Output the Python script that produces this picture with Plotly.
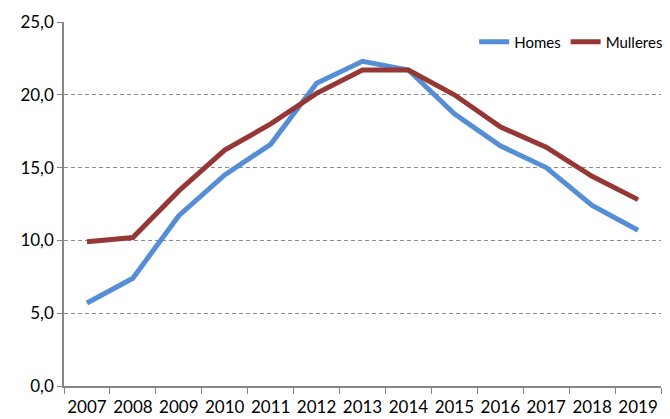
import plotly.graph_objects as go

years = ["2007", "2008", "2009", "2010", "2011", "2012", "2013",
         "2014", "2015", "2016", "2017", "2018", "2019"]
homes = [5.7, 7.4, 11.7, 14.5, 16.6, 20.8, 22.3, 21.7, 18.7, 16.5, 15.0, 12.4, 10.7]
mulleres = [9.9, 10.2, 13.4, 16.2, 18.0, 20.1, 21.7, 21.7, 20.0, 17.8, 16.4, 14.4, 12.8]
y_ticks = [0, 5, 10, 15, 20, 25]

fig = go.Figure()
fig.add_trace(go.Scatter(x=years, y=homes, name="Homes", mode="lines",
                         line=dict(color="#558ED5", width=5)))
fig.add_trace(go.Scatter(x=years, y=mulleres, name="Mulleres", mode="lines",
                         line=dict(color="#953735", width=5)))

fig.update_layout(
    width=670, height=419,
    margin=dict(l=64, r=2, t=22, b=33),
    paper_bgcolor="white", plot_bgcolor="white",
    separators=", ",
    font=dict(family="Lato, Open Sans, sans-serif", size=16, color="#000000"),
    showlegend=True,
    legend=dict(orientation="h", x=1.012, xanchor="right", y=0.945, yanchor="middle",
                font=dict(size=15), bgcolor="rgba(0,0,0,0)", itemwidth=30,
                tracegroupgap=0),
    xaxis=dict(type="category", tickson="boundaries", ticks="outside", ticklen=6,
               tickcolor="#868686", showline=True, linecolor="#868686", linewidth=1.5,
               showgrid=False, range=[-0.5, 12.5], tickfont=dict(size=17),
               tickangle=0, automargin=False, ticklabelstandoff=5),
    yaxis=dict(range=[0, 25], tickvals=y_ticks, tickformat=".1f", ticks="outside",
               ticklen=5, tickcolor="#868686", showline=True, linecolor="#868686",
               linewidth=1.5, showgrid=True, gridcolor="#8c8c8c", griddash="4px,3px",
               gridwidth=1, zeroline=False, tickfont=dict(size=17), automargin=False),
)

fig.write_html("out.html", config={"displayModeBar": False},
               post_script="document.body.style.margin='0';document.body.style.overflow='hidden';")
